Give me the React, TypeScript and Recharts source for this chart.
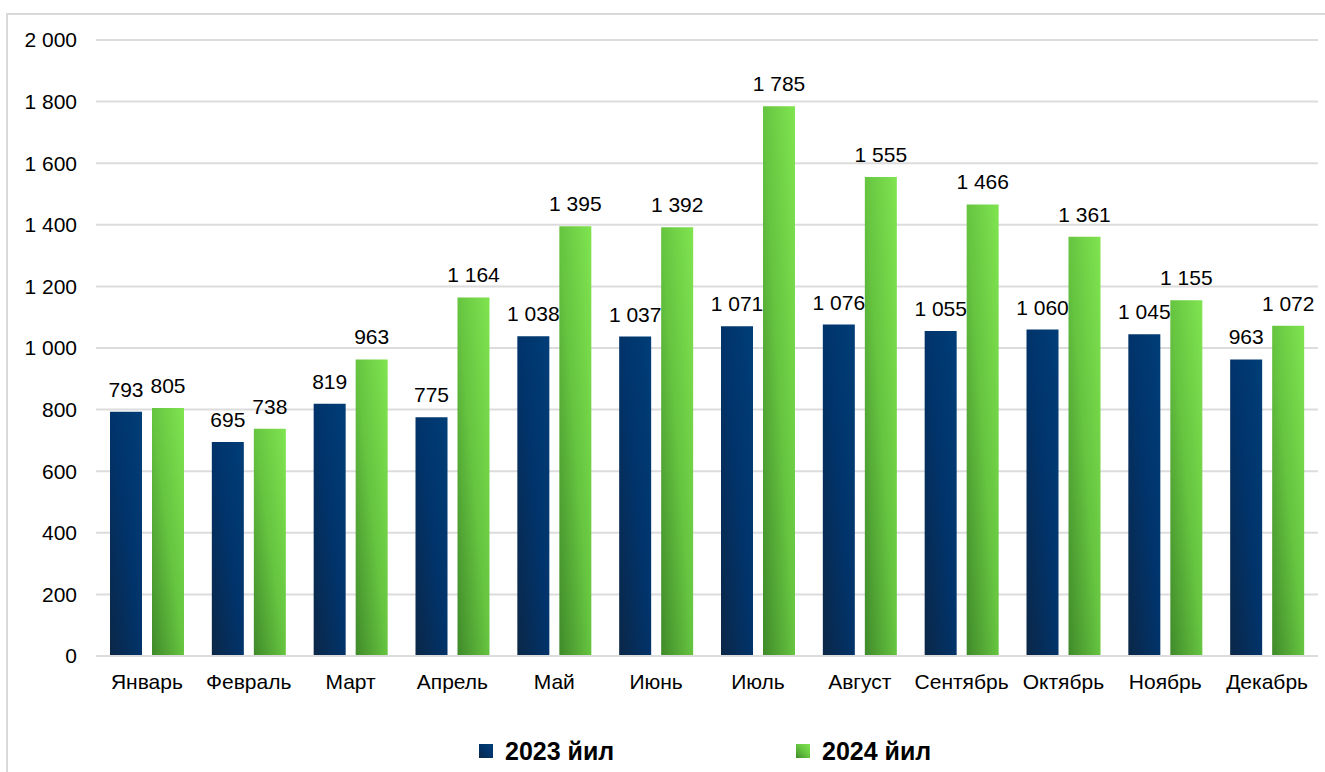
import React from "react";
import { BarChart, Bar, XAxis, YAxis, CartesianGrid, LabelList, Legend } from "recharts";

const months = ["Январь", "Февраль", "Март", "Апрель", "Май", "Июнь", "Июль", "Август", "Сентябрь", "Октябрь", "Ноябрь", "Декабрь"];
const values2023 = [793, 695, 819, 775, 1038, 1037, 1071, 1076, 1055, 1060, 1045, 963];
const values2024 = [805, 738, 963, 1164, 1395, 1392, 1785, 1555, 1466, 1361, 1155, 1072];
const yTicks = [0, 200, 400, 600, 800, 1000, 1200, 1400, 1600, 1800, 2000];
const seriesNames = ["2023 йил", "2024 йил"];

const data = months.map((m, i) => ({ month: m, y2023: values2023[i], y2024: values2024[i] }));

const fmt = (v: number) => {
  const s = String(Math.round(v));
  return s.replace(/\B(?=(\d{3})+(?!\d))/g, "\u00A0");
};

const FONT = "'Liberation Sans', Arial, sans-serif";

const LegendContent = () => (
  <div style={{ position: "relative", width: 1325, height: 0 }}>
    {[
      { left: 479, name: seriesNames[0], bg: "linear-gradient(45deg, #0b2747 0%, #01336a 50%, #003e78 100%)" },
      { left: 796, name: seriesNames[1], bg: "linear-gradient(45deg, #3f8a2a 0%, #66c440 50%, #80e450 100%)" },
    ].map((it) => (
      <div key={it.name} style={{ position: "absolute", left: it.left, top: 0, display: "flex", alignItems: "center", height: 30 }}>
        <div style={{ width: 14, height: 14, background: it.bg }} />
        <span style={{ marginLeft: 12, fontFamily: FONT, fontWeight: 700, fontSize: 25, color: "#000", whiteSpace: "nowrap" }}>{it.name}</span>
      </div>
    ))}
  </div>
);

export default function App() {
  return (
    <div style={{ position: "absolute", left: 0, top: 0, width: 1325, height: 772, background: "#fff", overflow: "hidden" }}>
      <div style={{ position: "absolute", left: 6, top: 13, width: 1400, height: 800, border: "2px solid #d9d9d9" }} />
      <div style={{ position: "absolute", left: 0, top: 0 }}>
        <BarChart
          width={1325}
          height={772}
          data={data}
          margin={{ top: 40, right: 7, left: 0, bottom: 86 }}
          barCategoryGap={14}
          barGap={10}
        >
          <defs>
            <linearGradient id="gBlue" x1="0" y1="1" x2="1" y2="0">
              <stop offset="0%" stopColor="#0b2747" />
              <stop offset="50%" stopColor="#01336a" />
              <stop offset="100%" stopColor="#003e78" />
            </linearGradient>
            <linearGradient id="gGreen" x1="0" y1="1" x2="1" y2="0">
              <stop offset="0%" stopColor="#3f8a2a" />
              <stop offset="50%" stopColor="#66c440" />
              <stop offset="100%" stopColor="#80e450" />
            </linearGradient>
          </defs>
          <CartesianGrid vertical={false} stroke="#dcdcdc" strokeWidth={2} />
          <XAxis
            dataKey="month"
            axisLine={{ stroke: "#dcdcdc", strokeWidth: 2 }}
            tickLine={false}
            tickMargin={12}
            tick={{ fontFamily: FONT, fontSize: 21, fill: "#000" }}
            interval={0}
            height={30}
          />
          <YAxis
            domain={[0, 2000]}
            ticks={yTicks}
            width={96}
            axisLine={false}
            tickLine={false}
            tickMargin={13}
            tickFormatter={fmt}
            tick={{ fontFamily: FONT, fontSize: 21, fill: "#000" }}
            interval={0}
          />
          <Legend
            verticalAlign="bottom"
            content={<LegendContent />}
            wrapperStyle={{ position: "absolute", left: 0, top: 736, width: 1325, height: 0 }}
          />
          <Bar dataKey="y2023" name={seriesNames[0]} fill="url(#gBlue)" isAnimationActive={false}>
            <LabelList dataKey="y2023" position="top" offset={15} formatter={(v: any) => fmt(Number(v))} style={{ fontFamily: FONT, fontSize: 21, fill: "#000" }} />
          </Bar>
          <Bar dataKey="y2024" name={seriesNames[1]} fill="url(#gGreen)" isAnimationActive={false}>
            <LabelList dataKey="y2024" position="top" offset={15} formatter={(v: any) => fmt(Number(v))} style={{ fontFamily: FONT, fontSize: 21, fill: "#000" }} />
          </Bar>
        </BarChart>
      </div>
    </div>
  );
}
